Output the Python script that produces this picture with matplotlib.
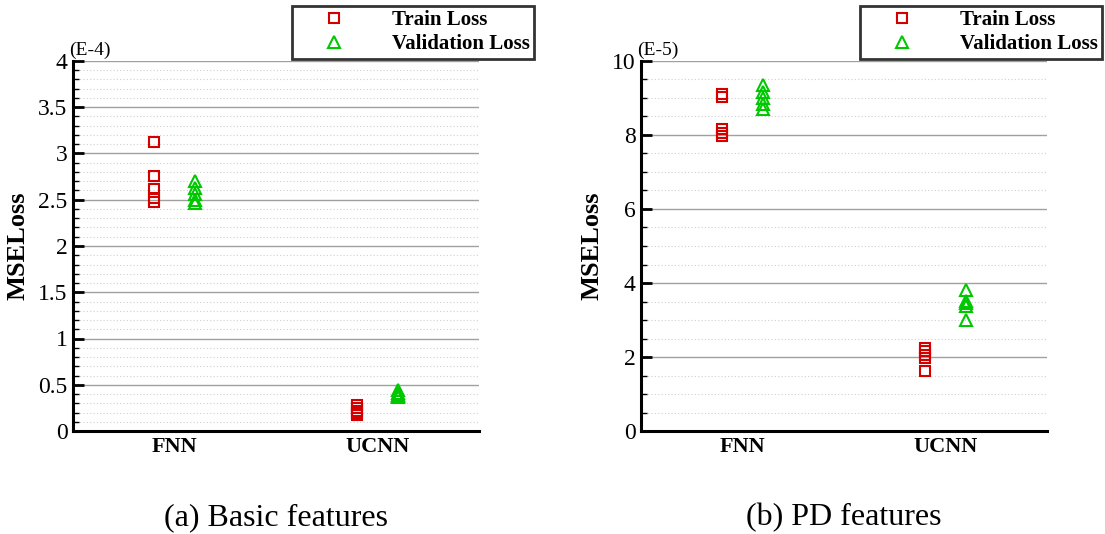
import numpy as np
import matplotlib.pyplot as plt
from matplotlib.ticker import MultipleLocator, FormatStrFormatter

plt.rcParams["font.family"] = ["Liberation Serif", "DejaVu Serif"]

models = ["FNN", "UCNN"]

# panel (a): basic features, values in units of 1E-4
basic_train_fnn = [3.12, 2.76, 2.62, 2.52, 2.48]
basic_val_fnn = [2.70, 2.63, 2.56, 2.50, 2.47]
basic_train_ucnn = [0.28, 0.25, 0.22, 0.19, 0.17]
basic_val_ucnn = [0.44, 0.41, 0.39, 0.38, 0.37]

# panel (b): PD features, values in units of 1E-5
pd_train_fnn = [9.12, 9.02, 8.15, 8.05, 7.97]
pd_val_fnn = [9.35, 9.15, 9.00, 8.85, 8.70]
pd_train_ucnn = [2.25, 2.15, 2.05, 1.98, 1.63]
pd_val_ucnn = [3.80, 3.52, 3.45, 3.38, 3.00]

RED = "#d40000"
GREEN = "#00c800"


def draw_panel(ax, train, val, ymax, major, minor, exp_label, caption, legend_right):
    centers = np.arange(len(models)) + 0.5
    for i, c in enumerate(centers):
        ax.plot([c - 0.1] * len(train[i]), train[i], ls="none", marker="s", ms=7,
                mfc="none", mec=RED, mew=1.5,
                label="Train Loss" if i == 0 else None, zorder=3)
        ax.plot([c + 0.1] * len(val[i]), val[i], ls="none", marker="^", ms=8,
                mfc="none", mec=GREEN, mew=1.5,
                label="Validation Loss" if i == 0 else None, zorder=3)
    ax.set_xlim(0, len(models))
    ax.set_ylim(0, ymax)
    ax.set_xticks(centers)
    ax.set_xticklabels(models, fontsize=16, fontweight="bold")
    ax.tick_params(axis="x", length=0, pad=4)
    ax.yaxis.set_major_locator(MultipleLocator(major))
    ax.yaxis.set_minor_locator(MultipleLocator(minor))
    ax.yaxis.set_major_formatter(FormatStrFormatter("%g"))
    ax.tick_params(axis="y", which="major", direction="in", length=8, width=2,
                   labelsize=17, pad=4)
    ax.tick_params(axis="y", which="minor", direction="in", length=4, width=1)
    ax.grid(True, which="major", axis="y", color="#a0a0a0", lw=1.0)
    ax.grid(True, which="minor", axis="y", color="#d0d0d0", lw=0.8, ls=(0, (1, 2)))
    ax.set_axisbelow(True)
    for s in ("top", "right"):
        ax.spines[s].set_visible(False)
    for s in ("left", "bottom"):
        ax.spines[s].set_linewidth(2.2)
    ax.set_ylabel("MSELoss", fontsize=19, fontweight="bold", labelpad=6)
    ax.text(-0.01, 1.005, exp_label, transform=ax.transAxes, fontsize=14,
            ha="left", va="bottom")
    ax.text(0.5, -0.235, caption, transform=ax.transAxes, fontsize=23,
            ha="center", va="center")
    leg = ax.legend(loc="upper right", bbox_to_anchor=(legend_right, 1 - 6 / 534),
                    bbox_transform=ax.figure.transFigure, frameon=True,
                    fancybox=False, handletextpad=1.0, borderpad=0.2,
                    labelspacing=0.2, handlelength=3.6, borderaxespad=0,
                    prop={"weight": "bold", "size": 15})
    leg.get_frame().set_edgecolor("black")
    leg.get_frame().set_linewidth(2.0)


fig = plt.figure(figsize=(11.05, 5.34), dpi=100)
ax1 = fig.add_axes([73 / 1105, 1 - 431 / 534, 406 / 1105, 370 / 534])
ax2 = fig.add_axes([641 / 1105, 1 - 431 / 534, 406 / 1105, 370 / 534])

draw_panel(ax1, [basic_train_fnn, basic_train_ucnn], [basic_val_fnn, basic_val_ucnn],
           4, 0.5, 0.1, "(E-4)", "(a) Basic features", 534 / 1105)
draw_panel(ax2, [pd_train_fnn, pd_train_ucnn], [pd_val_fnn, pd_val_ucnn],
           10, 2, 0.5, "(E-5)", "(b) PD features", 1102 / 1105)

fig.savefig("out.png", dpi=100)
